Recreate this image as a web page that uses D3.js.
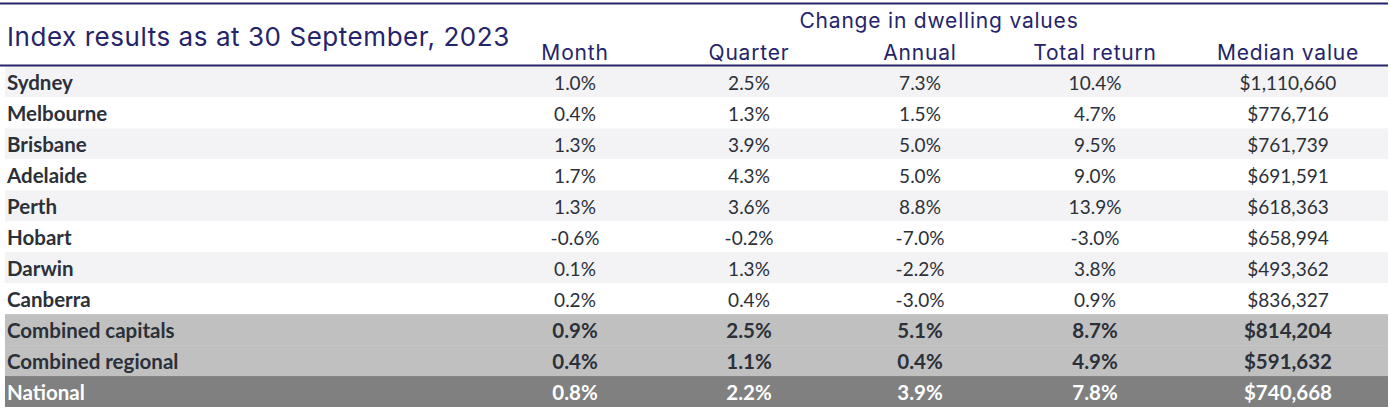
<!DOCTYPE html>
<html><head><meta charset="utf-8">
<script src="https://cdn.jsdelivr.net/npm/d3@7"></script>
<style>
html,body{margin:0;padding:0;background:#fff;}
svg{display:block;}
</style></head>
<body>
<svg id="chart" width="1390" height="410"></svg>
<script>
const title = "Index results as at 30 September, 2023";
const groupLabel = "Change in dwelling values";
const columns = ["Month", "Quarter", "Annual", "Total return", "Median value"];
const regions = ["Sydney","Melbourne","Brisbane","Adelaide","Perth","Hobart","Darwin","Canberra","Combined capitals","Combined regional","National"];
const month = ["1.0%","0.4%","1.3%","1.7%","1.3%","-0.6%","0.1%","0.2%","0.9%","0.4%","0.8%"];
const quarter = ["2.5%","1.3%","3.9%","4.3%","3.6%","-0.2%","1.3%","0.4%","2.5%","1.1%","2.2%"];
const annual = ["7.3%","1.5%","5.0%","5.0%","8.8%","-7.0%","-2.2%","-3.0%","5.1%","0.4%","3.9%"];
const totalReturn = ["10.4%","4.7%","9.5%","9.0%","13.9%","-3.0%","3.8%","0.9%","8.7%","4.9%","7.8%"];
const medianValue = ["$1,110,660","$776,716","$761,739","$691,591","$618,363","$658,994","$493,362","$836,327","$814,204","$591,632","$740,668"];
const rowType = ["city","city","city","city","city","city","city","city","combined","combined","national"];

const svg = d3.select("#chart");
const navy = "#25246a";
const txt = "#2b3039";

const y = d3.scaleBand().domain(regions).range([66.5, 407]).paddingInner(0);
const x = d3.scaleOrdinal().domain(columns).range([575, 749, 920, 1095, 1288]);
const series = [month, quarter, annual, totalReturn, medianValue];

const fill = (t,i) => t==="national" ? "#808080" : t==="combined" ? "#c0c0c0" : (i%2===0 ? "#f3f3f5" : "#ffffff");
const head = "Inter, 'Noto Sans', sans-serif";
const body = "Lato, sans-serif";

// Row backgrounds
svg.append("g").selectAll("rect").data(regions).join("rect")
  .attr("x", 5).attr("width", 1383)
  .attr("y", d => y(d)).attr("height", y.bandwidth())
  .attr("fill", (d,i) => fill(rowType[i], i));

// lines
svg.append("line").attr("x1",0).attr("x2",1388).attr("y1",3.5).attr("y2",3.5).attr("stroke",navy).attr("stroke-width",2);
svg.append("line").attr("x1",0).attr("x2",1388).attr("y1",65.5).attr("y2",65.5).attr("stroke",navy).attr("stroke-width",2);

// title
svg.append("text").attr("x",7).attr("y",46).text(title)
  .attr("font-family",head).attr("font-size",26).attr("letter-spacing",0.55).attr("fill",navy);
svg.append("text").attr("x",939).attr("y",28).attr("text-anchor","middle").text(groupLabel)
  .attr("font-family",head).attr("font-size",21).attr("letter-spacing",0.8).attr("fill",navy);

// column headers
svg.append("g").selectAll("text").data(columns).join("text")
  .attr("x", d => x(d)).attr("y", 59.5).attr("text-anchor","middle")
  .attr("font-family",head).attr("font-size",21).attr("letter-spacing",0.8).attr("fill",navy)
  .text(d => d);

// row labels
const rowG = svg.append("g").selectAll("g").data(regions).join("g")
  .attr("transform", d => `translate(0,${y(d) + y.bandwidth()/2 + 8})`);
rowG.append("text").attr("x",7).text(d => d)
  .attr("font-family",body).attr("font-weight",700).attr("font-size",20.5)
  .attr("fill",(d,i) => rowType[i]==="national" ? "#ffffff" : txt);

columns.forEach((c,ci) => {
  rowG.append("text").attr("x", x(c)).attr("text-anchor","middle")
    .text((d,i) => series[ci][i])
    .attr("font-family",body)
    .attr("font-weight",(d,i) => rowType[i]==="city" ? 400 : 700)
    .attr("font-size",(d,i) => rowType[i]==="city" ? 19 : 20.5)
    .attr("fill",(d,i) => rowType[i]==="national" ? "#ffffff" : txt);
});
</script>
</body></html>
